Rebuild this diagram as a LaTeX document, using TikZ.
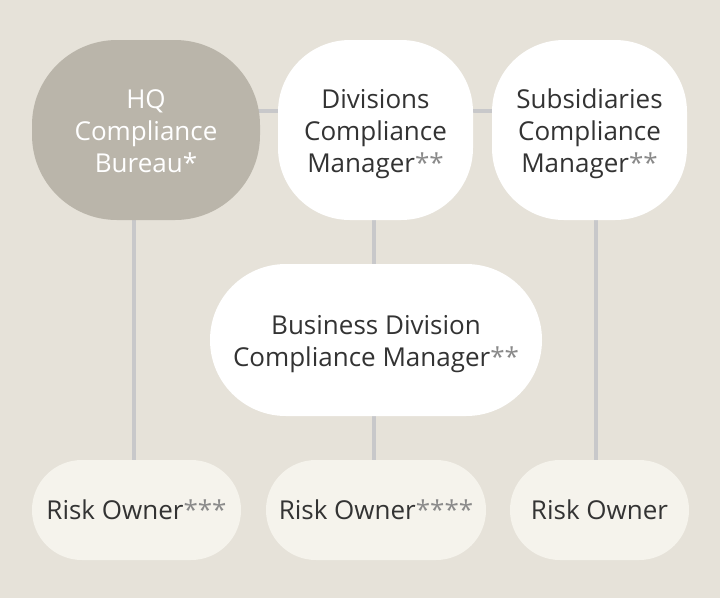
\documentclass[tikz,border=0pt]{standalone}
\usepackage{fontspec}
\setmainfont{Open Sans}
\definecolor{bgc}{HTML}{E6E2D9}
\definecolor{hqc}{HTML}{BAB5AA}
\definecolor{roc}{HTML}{F5F3EC}
\definecolor{lnc}{HTML}{C8C8CA}
\definecolor{txc}{HTML}{333333}
\definecolor{stc}{HTML}{8A8A8A}
\pgfdeclarelayer{bglayer}
\pgfdeclarelayer{connlayer}
\pgfsetlayers{bglayer,connlayer,main}
\newcommand{\st}[1]{\textcolor{stc}{#1}}
\newcommand{\mlines}[1]{\raisebox{-4pt}[\height][\depth]{\begin{tabular}{@{}c@{}}#1\end{tabular}}}
\tikzset{
  box/.style={fill=white, draw=none, inner sep=0pt, text=txc,
    font=\fontsize{26}{32}\selectfont},
  conn/.style={draw=lnc, line width=4pt},
}
\begin{document}
\begin{tikzpicture}[x=1pt,y=-1pt]
\useasboundingbox (0,0) rectangle (720,598);
\node[box, fill=hqc, text=white, minimum width=228pt, minimum height=180pt, rounded corners=85pt] (hq) at (146,130) {\mlines{HQ\\Compliance\\Bureau*}};
\node[box, minimum width=195pt, minimum height=180pt, rounded corners=72pt] (div) at (375.5,130) {\mlines{Divisions\\Compliance\\Manager\st{**}}};
\node[box, minimum width=195pt, minimum height=180pt, rounded corners=72pt] (sub) at (589.5,130) {\mlines{Subsidiaries\\Compliance\\Manager\st{**}}};
\node[box, minimum width=332pt, minimum height=152pt, rounded corners=75.9pt] (bus) at (376,340) {\mlines{Business Division\\Compliance Manager\st{**}}};
\node[box, fill=roc, minimum width=209pt, minimum height=100pt, rounded corners=49.9pt] (r1) at (136.5,510) {Risk Owner\st{***}};
\node[box, fill=roc, minimum width=220pt, minimum height=100pt, rounded corners=49.9pt] (r2) at (376,510) {Risk Owner\st{****}};
\node[box, fill=roc, minimum width=179pt, minimum height=100pt, rounded corners=49.9pt] (r3) at (599.5,510) {Risk Owner};
\begin{pgfonlayer}{bglayer}
\fill[bgc] (0,0) rectangle (720,598);
\end{pgfonlayer}
\begin{pgfonlayer}{connlayer}
\draw[conn] ([yshift=19pt]hq.center) -- ([yshift=19pt]sub.center);
\draw[conn] ([xshift=-12pt]hq.center) -- ([xshift=-12pt]hq.center |- r1.center);
\draw[conn] ([xshift=-1.5pt]div.center) -- ([xshift=-1.5pt]div.center |- bus.center);
\draw[conn] ([xshift=-2pt]bus.center) -- ([xshift=-2pt]bus.center |- r2.center);
\draw[conn] ([xshift=6.5pt]sub.center) -- ([xshift=6.5pt]sub.center |- r3.center);
\end{pgfonlayer}
\end{tikzpicture}
\end{document}
